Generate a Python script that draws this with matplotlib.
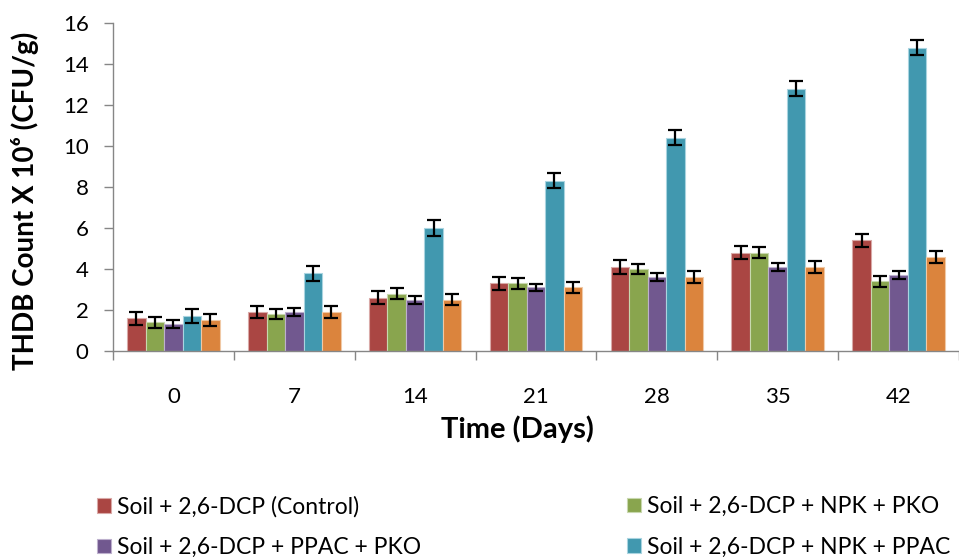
import matplotlib
matplotlib.use("Agg")
import matplotlib.pyplot as plt
import numpy as np

plt.rcParams['font.family'] = ['Lato', 'DejaVu Sans']

days = ["0", "7", "14", "21", "28", "35", "42"]
series_labels = [
    "Soil + 2,6-DCP (Control)",
    "Soil + 2,6-DCP + NPK + PKO",
    "Soil + 2,6-DCP + PPAC + PKO",
    "Soil + 2,6-DCP + NPK + PPAC",
    "Soil + 2,6-DCP + NPK + PPAC + PKO",
]
control      = [1.6, 1.9, 2.6, 3.3, 4.1, 4.8, 5.4]
npk_pko      = [1.4, 1.8, 2.8, 3.3, 4.0, 4.8, 3.4]
ppac_pko     = [1.3, 1.9, 2.5, 3.1, 3.6, 4.1, 3.7]
npk_ppac     = [1.7, 3.8, 6.0, 8.3, 10.4, 12.8, 14.8]
npk_ppac_pko = [1.5, 1.9, 2.5, 3.1, 3.6, 4.1, 4.6]

control_err      = [0.31, 0.31, 0.32, 0.32, 0.32, 0.33, 0.32]
npk_pko_err      = [0.28, 0.23, 0.27, 0.26, 0.26, 0.26, 0.27]
ppac_pko_err     = [0.19, 0.20, 0.20, 0.18, 0.20, 0.20, 0.19]
npk_ppac_err     = [0.35, 0.37, 0.37, 0.37, 0.37, 0.37, 0.35]
npk_ppac_pko_err = [0.29, 0.28, 0.28, 0.28, 0.30, 0.31, 0.29]

values = [control, npk_pko, ppac_pko, npk_ppac, npk_ppac_pko]
errors = [control_err, npk_pko_err, ppac_pko_err, npk_ppac_err, npk_ppac_pko_err]
colors = ["#AA4643", "#89A54E", "#71588F", "#4198AF", "#DB843D"]
edges = ["#D9A9A7", "#C8D8AE", "#BDB0CD", "#A9D4E0", "#F0C9A6"]

W, H = 959, 557
fig = plt.figure(figsize=(W / 100, H / 100), dpi=100)
ax = fig.add_axes([113 / W, 1 - 351 / H, (W - 113) / W, (351 - 23) / H])

x = np.arange(len(days))
bw = 0.153
handles = []
for i, (vals, errs) in enumerate(zip(values, errors)):
    b = ax.bar(x + (i - 2) * bw, vals, width=bw, color=colors[i],
               edgecolor=edges[i], linewidth=0.8, label=series_labels[i],
               yerr=errs, error_kw=dict(ecolor="black", elinewidth=1.6,
                                        capsize=4.8, capthick=1.6),
               zorder=2)
    handles.append(b)

gray = "#868686"
ax.set_xlim(-0.5, -0.5 + (W - 113) / 122)
ax.set_ylim(0, 16)
ax.set_yticks(np.arange(0, 17, 2))
ax.set_xticks(x)
ax.set_xticklabels(days)
ax.set_xticks(np.arange(-0.5, len(days), 1), minor=True)
ax.tick_params(axis='x', which='major', length=0, labelsize=16, pad=26)
ax.tick_params(axis='x', which='minor', length=6.5, width=1, color=gray, direction='out')
ax.tick_params(axis='y', length=6.5, width=1, color=gray, labelsize=16, pad=11)
for s in ["top", "right"]:
    ax.spines[s].set_visible(False)
for s in ["left", "bottom"]:
    ax.spines[s].set_color(gray)
    ax.spines[s].set_linewidth(1)

fig.text(517 / W, 1 - 429 / H, "Time (Days)", fontsize=21, fontweight='bold',
         ha='center', va='center')
fig.text(25 / W, 1 - 201 / H, "THDB Count X 10\u2076 (CFU/g)", fontsize=20,
         fontweight='bold', rotation=90, ha='center', va='center')

leg_kw = dict(frameon=False, fontsize=16.5, handlelength=0.62, handleheight=0.62,
              handletextpad=0.25, labelspacing=0.85, borderpad=0, borderaxespad=0,
              loc='upper left')
# The fifth (orange) series' legend entry lies below the visible figure area.
fig.legend([handles[0], handles[2]],
           [series_labels[0], series_labels[2]],
           bbox_to_anchor=(97 / W, 1 - 496 / H), **leg_kw)
fig.legend([handles[1], handles[3]],
           [series_labels[1], series_labels[3]],
           bbox_to_anchor=(627 / W, 1 - 496 / H), **leg_kw)

fig.savefig("out.png", dpi=100)
